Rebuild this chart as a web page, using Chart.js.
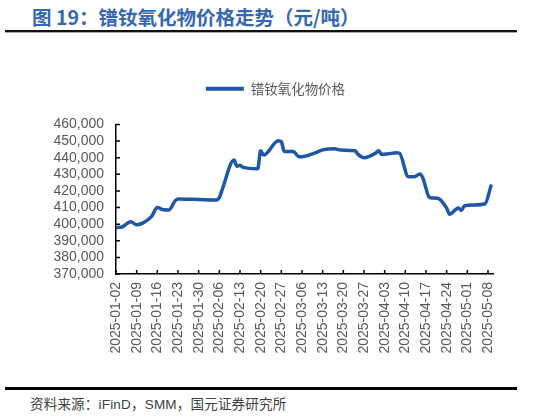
<!DOCTYPE html>
<html>
<head>
<meta charset="utf-8">
<script src="https://cdn.jsdelivr.net/npm/chart.js@4.4.1/dist/chart.umd.min.js"></script>
<style>
    html, body { margin: 0; padding: 0; background: #fff; }
    #page { position: relative; width: 533px; height: 418px; overflow: hidden; }
    #title { position: absolute; left: 32px; top: 2px; font: bold 19.5px "Noto Sans CJK SC", sans-serif; color: #3568b3; white-space: nowrap; }
    #title-rule { position: absolute; left: 5px; top: 30px; width: 512px; height: 2px; background: #111; border-bottom: 1px solid #aaa; }
    #chart-box { position: absolute; left: 0; top: 72px; width: 533px; height: 300px; }
    #source-rule { position: absolute; left: 5px; top: 387px; width: 512px; height: 2.5px; background: #000; }
    #source { position: absolute; left: 30px; top: 393px; font: 13.5px "Liberation Sans", "Noto Sans CJK SC", sans-serif; color: #404040; white-space: nowrap; letter-spacing: 0.2px; }
</style>
</head>
<body>
<div id="page">
    <div id="title">图 19：镨钕氧化物价格走势（元/吨）</div>
    <div id="title-rule"></div>
    <div id="chart-box"><canvas id="price-chart"></canvas></div>
    <div id="source-rule"></div>
    <div id="source">资料来源：iFinD，SMM，国元证券研究所</div>
</div>
<script>
// Series
const seriesName = '镨钕氧化物价格';
const dates = [
    '2025-01-02', '2025-01-04', '2025-01-07', '2025-01-09', '2025-01-11', '2025-01-14',
    '2025-01-16', '2025-01-18', '2025-01-20', '2025-01-22', '2025-01-23', '2025-01-30',
    '2025-02-05', '2025-02-06', '2025-02-07', '2025-02-11', '2025-02-12', '2025-02-13',
    '2025-02-14', '2025-02-19', '2025-02-20', '2025-02-21', '2025-02-26', '2025-02-27',
    '2025-02-28', '2025-03-03', '2025-03-05', '2025-03-06', '2025-03-10', '2025-03-13',
    '2025-03-17', '2025-03-19', '2025-03-24', '2025-03-25', '2025-03-27', '2025-03-29',
    '2025-03-31', '2025-04-01', '2025-04-02', '2025-04-04', '2025-04-07', '2025-04-08',
    '2025-04-11', '2025-04-13', '2025-04-15', '2025-04-16', '2025-04-18', '2025-04-19',
    '2025-04-21', '2025-04-24', '2025-04-25', '2025-04-28', '2025-04-29', '2025-04-30',
    '2025-05-03', '2025-05-07', '2025-05-09'
];
const prices = [
    398000, 398300, 401500, 399600, 400600, 404500,
    410000, 408700, 408600, 414000, 415200, 414900,
    414600, 416000, 421000, 438600, 434800, 435500,
    434200, 433400, 444200, 441600, 450200, 449600,
    443800, 443800, 440600, 440600, 442600, 444700,
    445400, 444600, 444200, 442000, 440000, 441000,
    442800, 444200, 442000, 442300, 443000, 442800,
    428600, 428500, 430200, 427500, 416500, 415800,
    415600, 409600, 406000, 409800, 408300, 411000,
    411600, 412300, 423000
];
const tickLabels = [
    '2025-01-02', '2025-01-09', '2025-01-16', '2025-01-23', '2025-01-30', '2025-02-06',
    '2025-02-13', '2025-02-20', '2025-02-27', '2025-03-06', '2025-03-13', '2025-03-20',
    '2025-03-27', '2025-04-03', '2025-04-10', '2025-04-17', '2025-04-24', '2025-05-01',
    '2025-05-08'
];

const lineColor = '#1f56a8';
const labelColor = '#595959';
const dayMs = 24 * 3600 * 1000;
const startDay = Date.parse(tickLabels[0]);

function dayIndex(dateStr) {
    return Math.round((Date.parse(dateStr) - startDay) / dayMs);
}

// Push the plot area down below the legend, and nudge the legend right
const legendSpacer = {
    id: 'legendSpacer',
    beforeInit(chart) {
        const fit = chart.legend.fit;
        chart.legend.fit = function () {
            fit.bind(chart.legend)();
            this.height += 19;
        };
    },
    afterLayout(chart) {
        chart.legend.left += 29;
        chart.legend.right += 29;
    }
};

// Tick marks point into the plot area
const innerTicks = {
    id: 'innerTicks',
    afterDraw(chart) {
        const ctx = chart.ctx;
        const area = chart.chartArea;
        const xs = chart.scales.x;
        const ys = chart.scales.y;
        ctx.save();
        ctx.strokeStyle = '#000';
        ctx.lineWidth = 1.5;
        ctx.beginPath();
        xs.ticks.forEach(t => {
            const px = xs.getPixelForValue(t.value);
            ctx.moveTo(px, area.bottom);
            ctx.lineTo(px, area.bottom - 4);
        });
        ys.ticks.forEach(t => {
            const py = ys.getPixelForValue(t.value);
            ctx.moveTo(area.left, py);
            ctx.lineTo(area.left + 4, py);
        });
        ctx.stroke();
        ctx.restore();
    }
};

const ctx = document.getElementById('price-chart').getContext('2d');
new Chart(ctx, {
    type: 'line',
    data: {
        datasets: [{
            label: seriesName,
            data: dates.map((d, i) => ({ x: dayIndex(d), y: prices[i] })),
            borderColor: lineColor,
            backgroundColor: lineColor,
            borderWidth: 3.5,
            borderCapStyle: 'round',
            borderJoinStyle: 'round',
            pointRadius: 0,
            cubicInterpolationMode: 'monotone',
            fill: false
        }]
    },
    options: {
        responsive: true,
        maintainAspectRatio: false,
        animation: false,
        layout: { padding: { left: 0, right: 40, top: 0, bottom: 0 } },
        plugins: {
            legend: {
                position: 'top',
                labels: {
                    boxWidth: 38,
                    boxHeight: 4,
                    padding: 10,
                    color: labelColor,
                    font: { family: '"Noto Sans CJK SC", sans-serif', size: 13.5 },
                    generateLabels: chart => {
                        const items = Chart.defaults.plugins.legend.labels.generateLabels(chart);
                        items.forEach(it => { it.lineWidth = 0; });
                        return items;
                    }
                }
            },
            tooltip: { enabled: false }
        },
        scales: {
            x: {
                type: 'linear',
                min: 0,
                max: 127.7,
                afterBuildTicks: scale => {
                    scale.ticks = tickLabels.map((_, i) => ({ value: i * 7 }));
                },
                afterFit: scale => { scale.height = 98; },
                grid: { display: false, drawTicks: false },
                border: { display: true, color: '#000', width: 1.5 },
                ticks: {
                    autoSkip: false,
                    minRotation: 90,
                    maxRotation: 90,
                    padding: 8,
                    color: labelColor,
                    font: { family: '"Liberation Sans", Arial, sans-serif', size: 14 },
                    callback: value => tickLabels[Math.round(value / 7)]
                }
            },
            y: {
                min: 370000,
                max: 460000,
                afterFit: scale => { scale.width = 116; },
                grid: { display: false, drawTicks: false },
                border: { display: true, color: '#000', width: 1.5 },
                ticks: {
                    autoSkip: false,
                    stepSize: 10000,
                    padding: 12,
                    color: labelColor,
                    font: { family: '"Liberation Sans", Arial, sans-serif', size: 14 },
                    callback: value => value.toLocaleString('en-US')
                }
            }
        }
    },
    plugins: [legendSpacer, innerTicks]
});
</script>
</body>
</html>
